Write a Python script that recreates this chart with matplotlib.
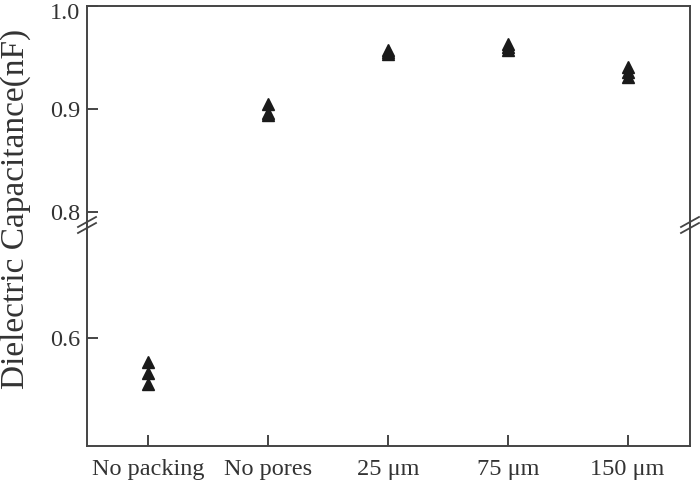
import matplotlib
matplotlib.use("Agg")
import matplotlib.pyplot as plt
from matplotlib.lines import Line2D
from matplotlib.transforms import ScaledTranslation

categories = ["No packing", "No pores", "25 \u03bcm", "75 \u03bcm", "150 \u03bcm"]
values = [
    [0.577, 0.566, 0.555],
    [0.905, 0.896, 0.894],
    [0.957, 0.955, 0.953],
    [0.963, 0.960, 0.957],
    [0.941, 0.936, 0.931],
]
upper_ticks = [0.8, 0.9, 1.0]
lower_ticks = [0.6]

plt.rcParams['font.family'] = ['Liberation Serif', 'DejaVu Serif']
ink = "#333333"
fig = plt.figure(figsize=(7, 4.83), dpi=100)
L, R = 87 / 700, 690 / 700
top = 1 - 6 / 483
brk = 1 - 225 / 483
bot = 1 - 446 / 483
ax_u = fig.add_axes([L, brk, R - L, top - brk])
ax_l = fig.add_axes([L, bot, R - L, brk - bot])

xs = list(range(1, len(categories) + 1))
for ax in (ax_u, ax_l):
    for x, vals in zip(xs, values):
        ax.plot([x] * len(vals), vals, linestyle='none', marker='^',
                markersize=8, color='#1a1a1a', clip_on=True)
    ax.set_xlim(0.49, 5.52)
    for s in ax.spines.values():
        s.set_color('#444444')
        s.set_linewidth(1.4)
    ax.tick_params(direction='in', length=8, width=1.4, color='#444444',
                   labelsize=17.5, labelcolor=ink, pad=5)

ax_u.set_ylim(0.7874, 1.0)
ax_l.set_ylim(0.4951, 0.7097)
ax_u.set_yticks(upper_ticks)
ax_u.set_yticklabels([f"{t:.1f}" for t in upper_ticks])
ax_l.set_yticks(lower_ticks)
ax_l.set_yticklabels([f"{t:.1f}" for t in lower_ticks])
ax_u.spines['bottom'].set_visible(False)
ax_l.spines['top'].set_visible(False)
ax_u.tick_params(axis='x', bottom=False, labelbottom=False)
ax_l.set_xticks(xs)
ax_l.set_xticklabels(categories)
ax_l.tick_params(axis='x', pad=9)

# shift the top "1.0" label slightly down so it stays inside the figure
for lbl in ax_u.get_yticklabels():
    if lbl.get_text() == "1.0":
        lbl.set_transform(lbl.get_transform() + ScaledTranslation(0, -5 / 100, fig.dpi_scale_trans))

fig.text(0.022, 1 - 209 / 483, "Dielectric Capacitance(nF)", rotation=90,
         va='center', ha='center', fontsize=24, color=ink)

# break marks
for xc in (L, R):
    for dy in (-3, 3):
        x0 = xc * 700 - 9
        x1 = xc * 700 + 9
        y0 = 225 + dy + 5
        y1 = 225 + dy - 5
        fig.add_artist(Line2D([x0 / 700, x1 / 700], [1 - y0 / 483, 1 - y1 / 483],
                              color='#444444', linewidth=1.3))

fig.savefig("out.png", dpi=100)
